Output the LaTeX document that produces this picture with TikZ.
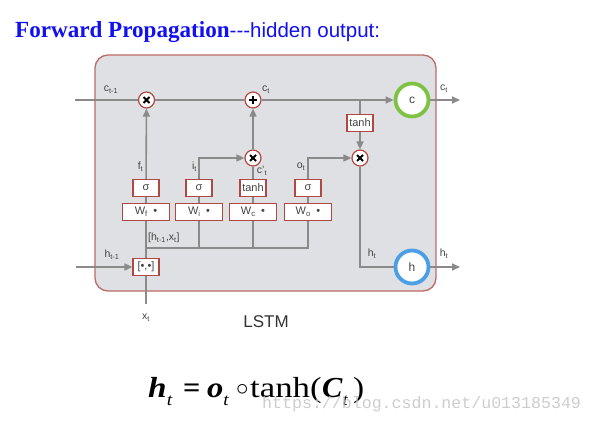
\documentclass[tikz,border=0pt]{standalone}
\usepackage{fontspec}
\usepackage{graphicx}
\setmainfont{Liberation Serif}
\setsansfont{Liberation Sans}
\newfontfamily\wmfont{Liberation Mono}
\usetikzlibrary{arrows.meta}
\definecolor{ln}{HTML}{8A8A8A}
\definecolor{bx}{HTML}{AE4841}
\definecolor{cellborder}{HTML}{BC6B66}
\definecolor{cellfill}{HTML}{DFE0E3}
\definecolor{lbl}{HTML}{454545}
\definecolor{cgreen}{HTML}{7DC243}
\definecolor{hblue}{HTML}{4C9FE6}
\definecolor{titleblue}{HTML}{1010F0}
\definecolor{wm}{HTML}{C4C4C4}
\newcommand\sbs[1]{\textsubscript{#1}}
\newcommand\ftsub[1]{\raisebox{-8pt}{\fontsize{17}{17}\selectfont\itshape #1}}
\begin{document}
\begin{tikzpicture}[x=1pt,y=-1pt,
  wire/.style={draw=ln,line width=1.6pt},
  arr/.style={wire,-{Triangle[length=8pt,width=7pt]}},
  gate/.style={draw=bx,line width=1.2pt,fill=white,minimum height=17pt,minimum width=26pt,inner xsep=1pt,inner ysep=0pt,font=\sffamily\fontsize{11}{11}\selectfont,text=lbl},
  wbox/.style={gate,minimum width=47pt},
  op/.style={circle,draw=bx,line width=1.2pt,fill=white,minimum size=16pt,inner sep=0pt},
  mul/.style={op,path picture={\draw[line width=1.9pt,black]
      ([shift={(-3,-3)}]path picture bounding box.center) -- ([shift={(3,3)}]path picture bounding box.center)
      ([shift={(-3,3)}]path picture bounding box.center) -- ([shift={(3,-3)}]path picture bounding box.center);}},
  add/.style={op,path picture={\draw[line width=1.9pt,black]
      ([shift={(-3.6,0)}]path picture bounding box.center) -- ([shift={(3.6,0)}]path picture bounding box.center)
      ([shift={(0,-3.6)}]path picture bounding box.center) -- ([shift={(0,3.6)}]path picture bounding box.center);}},
  lab/.style={font=\sffamily\fontsize{10.5}{11}\selectfont,text=lbl,inner sep=0pt},
  statenode/.style={circle,fill=white,line width=3.8pt,minimum size=33pt,inner sep=0pt,font=\sffamily\fontsize{12}{12}\selectfont,text=lbl},
  fml/.style={anchor=base west,inner sep=0pt,font=\fontsize{29}{31}\selectfont},
]
\path[use as bounding box] (0,0) rectangle (593,423);

% title
\node[anchor=base west,inner sep=0pt,text=titleblue] (title) at (15,37)
  {{\fontsize{23.1}{25}\selectfont\bfseries Forward Propagation}{\sffamily\fontsize{20.5}{22}\selectfont -\kern0pt-\kern0pt-hidden output:}};

% cell
\node[draw=cellborder,fill=cellfill,line width=1.3pt,rounded corners=13pt,minimum width=341pt,minimum height=236pt,inner sep=0pt] (cell) at (265.5,173) {};

% state circles
\node[statenode,draw=cgreen] (cnode) at (412,100) {c};
\node[statenode,draw=hblue] (hnode) at (412,267) {h};

% operators
\node[mul] (mf) at (146.5,100) {};
\node[add] (addc) at (253,100) {};
\node[mul] (mi) at (253,158) {};
\node[mul] (mo) at (360,158) {};

% gates
\node[gate] (sf) at (146,188) {σ};
\node[gate] (si) at (199,188) {σ};
\node[gate] (tc) at (253,188) {tanh};
\node[gate] (so) at (308,188) {σ};
\node[gate] (th) at (360,123) {tanh};
\node[wbox] (wf) at (146,212) {W\sbs{f}\enspace•};
\node[wbox] (wi) at (199,212) {W\sbs{i}\enspace•};
\node[wbox] (wc) at (253,212) {W\sbs{c}\enspace•};
\node[wbox] (wo) at (308,212) {W\sbs{o}\enspace•};
\node[gate] (cat) at (146,267) {[•,•]};

% coordinates
\coordinate (cin) at (75,100);
\coordinate (cout) at (460,100);
\coordinate (tap) at (360,100);
\coordinate (hin) at (76,267);
\coordinate (hout) at (460,267);
\coordinate (xin) at (146,304);
\coordinate (bus) at (146,248);

% cell state line
\draw[wire] (cin) -- (mf);
\draw[wire] (mf) -- (addc);
\draw[arr] (addc) -- (cnode);
\draw[arr] (cnode) -- (cout);
\draw[wire] (tap) -- (th);
\draw[arr] (th) -- (mo);

% gates to operators
\draw[arr] (sf) -- (mf);
\draw[arr] (si.north) |- (mi.west);
\draw[wire] (tc) -- (mi);
\draw[arr] (mi) -- (addc);
\draw[arr] (so.north) |- (mo.west);
\draw[wire] (mo) |- (hnode);
\draw[arr] (hnode) -- (hout);

% W to gates
\draw[wire] (wf) -- (sf);
\draw[wire] (wi) -- (si);
\draw[wire] (wc) -- (tc);
\draw[wire] (wo) -- (so);

% inputs
\draw[arr] (hin) -- (cat);
\draw[wire] (xin) -- (cat);
\draw[wire] (cat) -- (wf);
\draw[wire] (bus) -| (wo.south);
\draw[wire] (wi.south) -- (wi.south |- bus);
\draw[wire] (wc.south) -- (wc.south |- bus);

% labels
\node[lab] (lc1) at (111,90) {c\sbs{t-1}};
\node[lab] (lc2) at (266,90) {c\sbs{t}};
\node[lab] (lc3) at (444,89) {c\sbs{t}};
\node[lab] (lf) at (140.5,167) {f\sbs{t}};
\node[lab] (li) at (194.5,167) {i\sbs{t}};
\node[lab] (lcp) at (262,171) {c'\sbs{t}};
\node[lab] (lo) at (301,167) {o\sbs{t}};
\node[lab] (lh1) at (372,254) {h\sbs{t}};
\node[lab] (lh2) at (444,254) {h\sbs{t}};
\node[lab] (lhp) at (112,255) {h\sbs{t-1}};
\node[lab] (lx) at (146,318) {x\sbs{t}};
\node[lab,anchor=west] (lcat) at (148,238) {[h\sbs{t-1},x\sbs{t}]};
\node[lab,font=\sffamily\fontsize{17}{18}\selectfont,text=black!80] (lstm) at (266,322) {LSTM};

% formula
\node[fml] (fh) at (148,397) {\scalebox{1.15}[1]{\textbf{\textit{h}}\ftsub{t}}};
\node[fml] (feq) at (183,397) {\scalebox{1.05}[1]{\textbf{=}}};
\node[fml] (fo) at (207,397) {\scalebox{1.12}[1]{\textbf{\textit{o}}\ftsub{t}}};
\node[fml,font=\fontsize{26}{27}\selectfont] (fcirc) at (236,395) {$\circ$};
\node[fml] (ftanh) at (250,397) {\scalebox{1.2}[1]{tanh(}};
\node[fml] (fC) at (322,397) {\scalebox{1.05}[1]{\textbf{\textit{C}}\ftsub{t}}};
\node[fml] (fpar) at (353,397) {\scalebox{1.15}[1]{)}};

% watermark
\node[anchor=base west,inner sep=0pt,text=wm,opacity=0.85,font=\wmfont\fontsize{16.6}{17}\selectfont] (wmark) at (262,408) {https://blog.csdn.net/u013185349};
\end{tikzpicture}
\end{document}
